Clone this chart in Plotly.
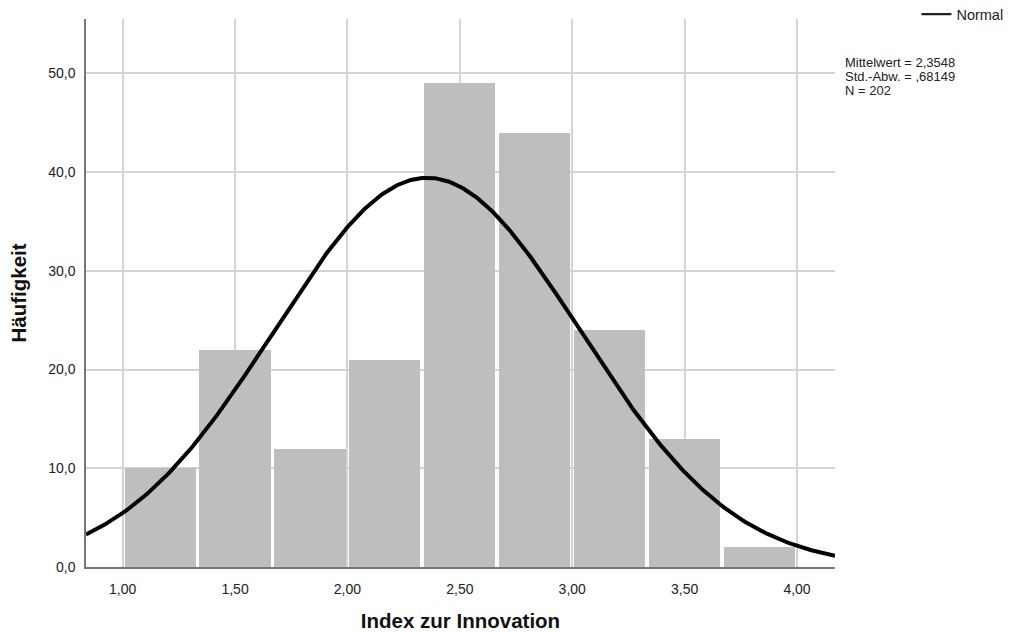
import numpy as np
import plotly.graph_objects as go

# ---- data ----
BIN_CENTERS = [1.1667, 1.5, 1.8333, 2.1667, 2.5, 2.8333, 3.1667, 3.5, 3.8333]
COUNTS = [10, 22, 12, 21, 49, 44, 24, 13, 2]
BIN_WIDTH = 1 / 3

MEAN = 2.3548
SD = 0.68149
N = 202

X_TICKS = [1.0, 1.5, 2.0, 2.5, 3.0, 3.5, 4.0]
X_LABELS = ["1,00", "1,50", "2,00", "2,50", "3,00", "3,50", "4,00"]
Y_TICKS = [0, 10, 20, 30, 40, 50]
Y_LABELS = ["0,0", "10,0", "20,0", "30,0", "40,0", "50,0"]

STATS_LINES = ["Mittelwert = 2,3548", "Std.-Abw. = ,68149", "N = 202"]

X_TITLE = "Index zur Innovation"
Y_TITLE = "Häufigkeit"

# ---- layout constants ----
X_RANGE = [0.837, 4.169]
Y_RANGE = [0, 55.5]
FONT = "Liberation Sans, Arial, sans-serif"
BAR_GAP = 0.017

# normal curve from the stated parameters (scaled to counts per bin)
xs = np.linspace(X_RANGE[0], X_RANGE[1], 400)
ys = N * BIN_WIDTH * np.exp(-0.5 * ((xs - MEAN) / SD) ** 2) / (SD * np.sqrt(2 * np.pi))

fig = go.Figure()
fig.add_trace(go.Bar(
    x=BIN_CENTERS, y=COUNTS, width=BIN_WIDTH - BAR_GAP,
    marker=dict(color="#bebebe", line=dict(width=0)),
    showlegend=False, hoverinfo="x+y",
))
fig.add_trace(go.Scatter(
    x=xs, y=ys, mode="lines", name="Normal", legendgroup="normal",
    line=dict(color="#000000", width=4), showlegend=False,
))
# legend entry (thinner line, as in the reference legend)
fig.add_trace(go.Scatter(
    x=[None], y=[None], mode="lines", name="Normal", legendgroup="normal",
    line=dict(color="#222222", width=2.2), showlegend=True, hoverinfo="skip",
))

annotations = []
y_centers_px = [61.5, 75.5, 89.5]
plot_top, plot_h = 19, 548
for text, ypx in zip(STATS_LINES, y_centers_px):
    annotations.append(dict(
        text=text, xref="paper", yref="paper",
        x=(844 - 86) / 749, xanchor="left",
        y=1 - (ypx + 1 - plot_top) / plot_h, yanchor="middle",
        showarrow=False, borderpad=0,
        font=dict(family=FONT, size=13, color="#222222"),
    ))

fig.update_layout(
    width=1011, height=632,
    margin=dict(l=86, r=176, t=19, b=65, autoexpand=False),
    paper_bgcolor="white", plot_bgcolor="white",
    font=dict(family=FONT, color="#222222"),
    bargap=0,
    annotations=annotations,
    legend=dict(
        x=1.1087, y=1.038, xanchor="left", yanchor="top",
        font=dict(family=FONT, size=14.5, color="#222222"),
        bgcolor="rgba(0,0,0,0)", borderwidth=0,
    ),
    xaxis=dict(
        range=X_RANGE, tickvals=X_TICKS, ticktext=X_LABELS,
        showgrid=True, gridcolor="#d4d4d4", gridwidth=1.5,
        showline=True, linecolor="#777777", linewidth=1.5,
        zeroline=False,
        ticks="outside", ticklen=8, tickcolor="rgba(0,0,0,0)",
        tickfont=dict(family=FONT, size=14, color="#222222"),
        title=dict(text=X_TITLE, standoff=20,
                   font=dict(family=FONT, size=20.5, color="#111111", weight="bold")),
    ),
    yaxis=dict(
        range=Y_RANGE, tickvals=Y_TICKS, ticktext=Y_LABELS,
        showgrid=True, gridcolor="#d4d4d4", gridwidth=1.5,
        showline=True, linecolor="#777777", linewidth=1.5,
        zeroline=False,
        ticks="outside", ticklen=6, tickcolor="rgba(0,0,0,0)",
        tickfont=dict(family=FONT, size=14, color="#222222"),
        title=dict(text=Y_TITLE, standoff=16,
                   font=dict(family=FONT, size=20.5, color="#111111", weight="bold")),
    ),
)

fig.write_html("out.html", config={"displayModeBar": False},
               post_script="document.body.style.margin='0';")
